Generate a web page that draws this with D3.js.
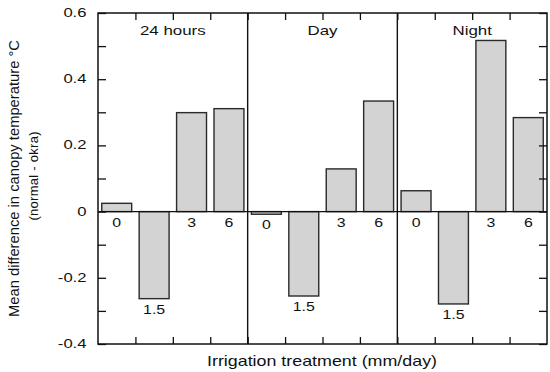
<!DOCTYPE html>
<html><head><meta charset="utf-8">
<script src="https://cdn.jsdelivr.net/npm/d3@7"></script>
<style>body{margin:0;background:#fff}svg{display:block;font-family:"Liberation Sans",Arial,sans-serif}</style>
</head><body><svg id="c" width="550" height="372"></svg>
<script>
const panels = ["24 hours", "Day", "Night"];
const treatments = ["0", "1.5", "3", "6"];
const values24h = [0.025, -0.263, 0.299, 0.311];
const valuesDay = [-0.008, -0.255, 0.129, 0.334];
const valuesNight = [0.063, -0.279, 0.517, 0.284];
const yTickLabels = ["0.6", "0.4", "0.2", "0", "-0.2", "-0.4"];
const yTitle1 = "Mean difference in canopy temperature °C";
const yTitle2 = "(normal - okra)";
const xTitle = "Irrigation treatment (mm/day)";

const allVals = [values24h, valuesDay, valuesNight];
const data = [];
panels.forEach((p, pi) => treatments.forEach((t, ti) => data.push({panel: p, pi, t, idx: pi*4+ti, v: allVals[pi][ti]})));

const svg = d3.select("#c");
const L = 98, R = 547, T = 13, B = 344;
const x = d3.scaleBand().domain(d3.range(12)).range([L, R]).paddingInner(0.2).paddingOuter(0.1);
const xs = d3.scaleLinear().domain([0, 12]).range([L, R]);
const y = d3.scaleLinear().domain([-0.4, 0.6]).range([B, T]);
const ink = "#111";
const txt = "#111";

function stext(g, tx, ty, s, size, sx, anchor) {
  return g.append("text").attr("transform", `translate(${tx},${ty}) scale(${sx},1)`)
    .attr("text-anchor", anchor || "middle").attr("font-size", size).attr("fill", txt).text(s);
}

// bars
svg.append("g").selectAll("rect").data(data).join("rect")
  .attr("x", d => x(d.idx)).attr("width", x.bandwidth())
  .attr("y", d => y(Math.max(0, d.v))).attr("height", d => Math.abs(y(d.v) - y(0)))
  .attr("fill", "#d3d3d3").attr("stroke", "#2a2a2a").attr("stroke-width", 1.4);

// zero line
svg.append("line").attr("x1", L).attr("x2", R).attr("y1", y(0)).attr("y2", y(0)).attr("stroke", ink).attr("stroke-width", 1.2);

// bar labels
const gl = svg.append("g");
data.forEach(d => stext(gl, x(d.idx) + x.bandwidth()/2, y(Math.min(0, d.v)) + 15, d.t, 13, 1.22));

// dividers
[4, 8].forEach(k => svg.append("line").attr("x1", xs(k)).attr("x2", xs(k)).attr("y1", T).attr("y2", B).attr("stroke", ink).attr("stroke-width", 1.4));

// axes with inward ticks
const yTicks = d3.range(-4, 7).map(i => i/10);
svg.append("g").attr("transform", `translate(${L},0)`)
  .call(d3.axisRight(y).tickValues(yTicks).tickSize(8).tickFormat(""))
  .call(g => g.select(".domain").remove());
svg.append("g").attr("transform", `translate(${R},0)`)
  .call(d3.axisLeft(y).tickValues(yTicks).tickSize(8).tickFormat(""))
  .call(g => g.select(".domain").remove());
const xTicks = d3.range(1, 12);
svg.append("g").attr("transform", `translate(0,${T})`)
  .call(d3.axisBottom(xs).tickValues(xTicks).tickSize(7).tickFormat(""))
  .call(g => g.select(".domain").remove());
svg.append("g").attr("transform", `translate(0,${B})`)
  .call(d3.axisTop(xs).tickValues(xTicks).tickSize(7).tickFormat(""))
  .call(g => g.select(".domain").remove());
svg.selectAll(".tick line").attr("stroke", ink).attr("stroke-width", 1.3);

// y tick labels
const gy = svg.append("g");
yTickLabels.forEach(s => stext(gy, 86.5, y(+s) + 4, s, 13, 1.28, "end"));

// frame
svg.append("rect").attr("x", L).attr("y", T).attr("width", R-L).attr("height", B-T)
  .attr("fill", "none").attr("stroke", ink).attr("stroke-width", 1.5);

// panel titles
panels.forEach((p, i) => stext(svg, xs(i*4+2), 35, p, 13, 1.3));

// axis titles
svg.append("text").attr("transform", "translate(18.5,178.5) rotate(-90)").attr("text-anchor", "middle")
  .attr("font-size", 14).attr("fill", txt).attr("textLength", 277).attr("lengthAdjust", "spacingAndGlyphs").text(yTitle1);
svg.append("text").attr("transform", "translate(38,176) rotate(-90)").attr("text-anchor", "middle")
  .attr("font-size", 13).attr("fill", txt).attr("textLength", 89).attr("lengthAdjust", "spacing").text(yTitle2);
svg.append("text").attr("x", 322).attr("y", 366).attr("text-anchor", "middle")
  .attr("font-size", 14.5).attr("fill", txt).attr("textLength", 230).attr("lengthAdjust", "spacingAndGlyphs").text(xTitle);
</script></body></html>
